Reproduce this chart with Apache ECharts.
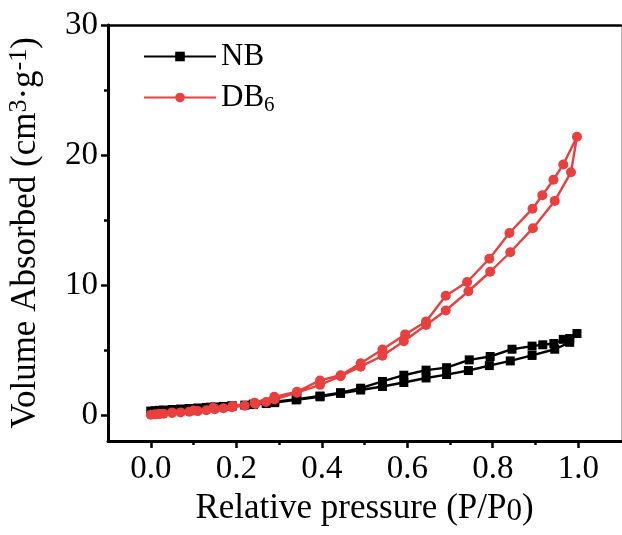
<!DOCTYPE html>
<html lang="en">
<head>
    <meta charset="UTF-8">
    <title>Isotherm</title>
    <script src="https://cdn.jsdelivr.net/npm/echarts@6/dist/echarts.min.js"></script>
    <style>
        html, body { margin: 0; padding: 0; background: #fff; }
        #charts { width: 622px; height: 535px; }
    </style>
</head>
<body>
<div id="charts"></div>
<script>
    // NB: adsorption branch then desorption branch
    var nbAdsP = [0.0, 0.01, 0.02, 0.03, 0.05, 0.07, 0.09, 0.11, 0.13, 0.15, 0.17, 0.19, 0.22, 0.24, 0.27, 0.29, 0.34, 0.396, 0.444, 0.491, 0.542, 0.592, 0.644, 0.692, 0.743, 0.792, 0.841, 0.892, 0.945, 0.98, 0.997];
    var nbAdsV = [0.3, 0.33, 0.36, 0.38, 0.42, 0.46, 0.5, 0.54, 0.58, 0.62, 0.66, 0.7, 0.76, 0.8, 0.88, 0.95, 1.16, 1.4, 1.66, 1.92, 2.19, 2.5, 2.85, 3.11, 3.42, 3.8, 4.16, 4.58, 5.06, 5.59, 6.27];
    var nbDesP = [0.98, 0.965, 0.943, 0.917, 0.892, 0.845, 0.794, 0.745, 0.692, 0.644, 0.592, 0.542, 0.491, 0.444, 0.396, 0.342, 0.29, 0.24, 0.19, 0.14];
    var nbDesV = [5.88, 5.82, 5.5, 5.4, 5.3, 5.06, 4.5, 4.24, 3.64, 3.45, 3.06, 2.58, 2.06, 1.72, 1.46, 1.22, 1.02, 0.84, 0.7, 0.6];

    // DB6
    var dbAdsP = [0.0, 0.01, 0.02, 0.03, 0.05, 0.07, 0.09, 0.11, 0.13, 0.15, 0.17, 0.19, 0.22, 0.245, 0.27, 0.29, 0.342, 0.396, 0.444, 0.491, 0.542, 0.592, 0.644, 0.69, 0.743, 0.794, 0.841, 0.894, 0.945, 0.983, 0.997];
    var dbAdsV = [0.02, 0.05, 0.08, 0.1, 0.15, 0.2, 0.25, 0.3, 0.37, 0.45, 0.52, 0.6, 0.72, 0.85, 1.0, 1.2, 1.72, 2.32, 2.98, 3.72, 4.56, 5.67, 6.93, 8.04, 9.52, 11.02, 12.52, 14.37, 16.47, 18.67, 21.4];
    var dbDesP = [0.965, 0.942, 0.916, 0.893, 0.839, 0.792, 0.74, 0.69, 0.644, 0.595, 0.542, 0.491, 0.444, 0.396, 0.342, 0.289, 0.243, 0.192, 0.146, 0.1, 0.05, 0.02];
    var dbDesV = [19.27, 18.1, 16.9, 15.87, 14.0, 12.02, 10.23, 9.17, 7.2, 6.2, 5.04, 3.98, 3.06, 2.66, 1.79, 1.4, 0.95, 0.7, 0.55, 0.35, 0.2, 0.08];

    var xMajor = [0.0, 0.2, 0.4, 0.6, 0.8, 1.0];
    var xMinor = [0.1, 0.3, 0.5, 0.7, 0.9];
    var yMajor = [0, 10, 20, 30];
    var yMinor = [5, 15, 25];

    var font = 'Liberation Serif';
    var red = '#e8403f';

    function pairs(px, vy, px2, vy2) {
        var out = [];
        for (var i = 0; i < px.length; i++) out.push([px[i], vy[i]]);
        for (var j = 0; j < px2.length; j++) out.push([px2[j], vy2[j]]);
        return out;
    }

    var myChart = echarts.init(document.getElementById('charts'));

    var baseX = { type: 'value', min: -0.1, max: 1.1, splitLine: { show: false } };
    var baseY = { type: 'value', min: -2, max: 30, splitLine: { show: false } };

    var option = {
        animation: false,
        grid: { left: 108, right: 1, top: 25, bottom: 94, outerBoundsMode: 'none' },
        legend: {
            orient: 'vertical',
            left: 138,
            top: 36,
            itemWidth: 72,
            itemHeight: 12,
            itemGap: 10,
            textStyle: {
                fontFamily: font, fontSize: 31, color: '#000',
                rich: {
                    a: { fontFamily: font, fontSize: 31, color: '#000' },
                    s: { fontFamily: font, fontSize: 21, color: '#000', padding: [16, 0, 0, 0] }
                }
            },
            formatter: function (name) {
                return name === 'DB6' ? '{a|DB}{s|6}' : '{a|' + name + '}';
            },
            data: ['NB', 'DB6']
        },
        xAxis: [
            Object.assign({}, baseX, {
                position: 'bottom',
                axisLine: { onZero: false, lineStyle: { color: '#000', width: 3 } },
                axisTick: { customValues: xMajor, length: 7, lineStyle: { color: '#000', width: 2.5 } },
                axisLabel: {
                    customValues: xMajor, margin: 12, color: '#000', fontFamily: font, fontSize: 33,
                    formatter: function (v) { return v.toFixed(1); }
                },
                name: '{a|Relative pressure (P/P}{s|0}{a|)}',
                nameLocation: 'middle',
                nameGap: 46,
                nameTextStyle: {
                    rich: {
                        a: { fontFamily: font, fontSize: 35, color: '#000' },
                        s: { fontFamily: font, fontSize: 31, color: '#000', padding: [6, 0, 0, 0] }
                    }
                }
            }),
            Object.assign({}, baseX, {
                position: 'bottom',
                axisLine: { show: false, onZero: false },
                axisTick: { customValues: xMinor, length: 4, lineStyle: { color: '#000', width: 2.5 } },
                axisLabel: { show: false }
            }),
            Object.assign({}, baseX, {
                position: 'top',
                axisLine: { onZero: false, lineStyle: { color: '#000', width: 2.5 } },
                axisTick: { show: false },
                axisLabel: { show: false }
            })
        ],
        yAxis: [
            Object.assign({}, baseY, {
                position: 'left',
                axisLine: { onZero: false, lineStyle: { color: '#000', width: 3 } },
                axisTick: { customValues: yMajor, length: 7, lineStyle: { color: '#000', width: 2.5 } },
                axisLabel: { customValues: yMajor, margin: 10, color: '#000', fontFamily: font, fontSize: 33 },
                name: '{a|Volume Absorbed (cm}{s|3}{a|·g}{s|-1}{a|)}',
                nameLocation: 'middle',
                nameGap: 62,
                nameTextStyle: {
                    rich: {
                        a: { fontFamily: font, fontSize: 35, color: '#000' },
                        s: { fontFamily: font, fontSize: 26, color: '#000', padding: [0, 0, 14, 0] }
                    }
                }
            }),
            Object.assign({}, baseY, {
                position: 'left',
                axisLine: { show: false, onZero: false },
                axisTick: { customValues: yMinor, length: 4, lineStyle: { color: '#000', width: 2.5 } },
                axisLabel: { show: false }
            }),
            Object.assign({}, baseY, {
                position: 'right',
                axisLine: { onZero: false, lineStyle: { color: '#b0b0b0', width: 1 } },
                axisTick: { show: false },
                axisLabel: { show: false }
            })
        ],
        series: [
            {
                name: 'NB',
                type: 'line',
                xAxisIndex: 0,
                yAxisIndex: 0,
                data: pairs(nbAdsP, nbAdsV, nbDesP, nbDesV),
                symbol: 'rect',
                symbolSize: 9,
                color: '#000',
                lineStyle: { width: 2.4, color: '#000' },
                itemStyle: { color: '#000' }
            },
            {
                name: 'DB6',
                type: 'line',
                xAxisIndex: 0,
                yAxisIndex: 0,
                data: pairs(dbAdsP, dbAdsV, dbDesP, dbDesV),
                symbol: 'circle',
                symbolSize: 10,
                color: red,
                lineStyle: { width: 2.4, color: red },
                itemStyle: { color: red }
            }
        ]
    };
    myChart.setOption(option);
</script>
</body>
</html>
